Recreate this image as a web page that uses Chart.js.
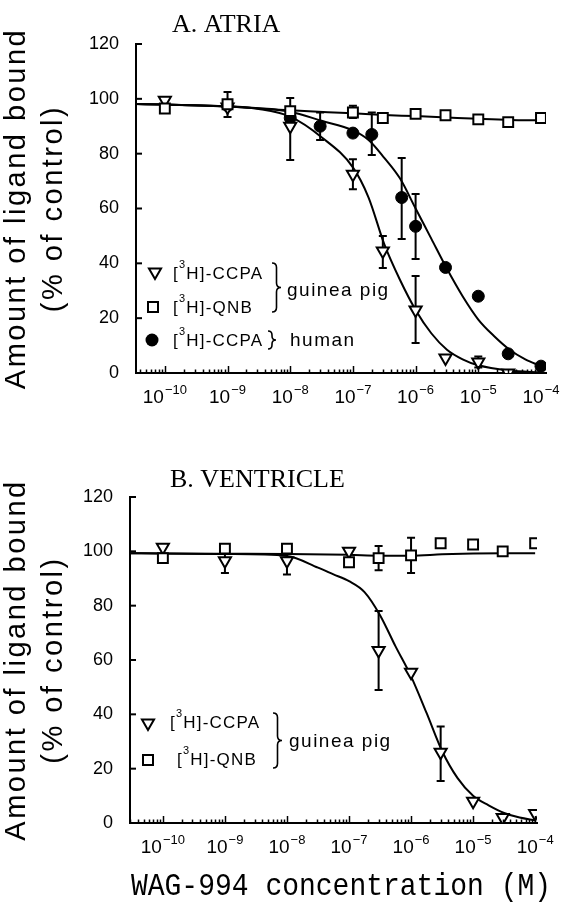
<!DOCTYPE html>
<html>
<head>
<meta charset="utf-8">
<title>WAG-994 displacement binding</title>
<script src="https://cdn.jsdelivr.net/npm/chart.js@4.4.1/dist/chart.umd.min.js"></script>
<style>
  body { margin: 0; background: #fff; }
  .panel { position: absolute; left: 0; width: 564px; }
  #panelA { top: 0; height: 430px; }
  #panelB { top: 440px; height: 462px; }
</style>
</head>
<body>
<div class="panel" id="panelA"><canvas id="chartA"></canvas></div>
<div class="panel" id="panelB"><canvas id="chartB"></canvas></div>
<script>
// ---- A. Atria: measured points (% of control) ----
const atriaCcpaGpConc = [1e-10, 1e-9, 1e-8, 1e-7, 3e-7, 1e-6, 3e-6, 1e-5, 3e-5];
const atriaCcpaGp     = [99.5, 97, 90, 72.5, 44.5, 23, 5.5, 4, 0];
const atriaCcpaGpLo   = [null, null, 77.7, 67, 38.3, 10.9, null, 2, null];
const atriaCcpaGpHi   = [null, null, 100.3, 78, 50, 35.4, null, 6, null];

const atriaQnbGpConc = [1e-10, 1e-9, 1e-8, 1e-7, 3e-7, 1e-6, 3e-6, 1e-5, 3e-5, 1e-4];
const atriaQnbGp     = [96.5, 98, 95.5, 95, 93, 94.5, 94, 92.5, 91.5, 93];
const atriaQnbGpLo   = [null, null, null, 93, null, null, null, null, null, null];
const atriaQnbGpHi   = [null, null, null, 97.5, null, null, null, null, null, null];

const atriaCcpaHuConc = [1e-9, 1e-8, 3e-8, 1e-7, 2e-7, 6e-7, 1e-6, 3e-6, 1e-5, 3e-5, 1e-4];
const atriaCcpaHu     = [97.5, 93, 90, 87.5, 87, 64, 53.5, 38.5, 28, 7, 2.5];
const atriaCcpaHuLo   = [93.4, null, 85, null, 79.5, 48.9, 41.6, null, null, null, null];
const atriaCcpaHuHi   = [102.5, null, 95, null, 95, 78.4, 65.3, null, null, null, null];

// fitted curves (log10 concentration, %)
const atriaFitCcpaGpExp = [-10.46, -10, -9, -8.5, -8, -7.5, -7, -6.75, -6.5, -6.25, -6, -5.75, -5.5, -5.25, -5, -4.5, -4];
const atriaFitCcpaGp    = [98.1, 97.9, 97.2, 96.3, 93.5, 86, 75, 64, 47, 34, 23, 14.5, 8.5, 5, 2.8, 0.9, 0.2];
const atriaFitCcpaHuExp = [-10.46, -10, -9, -8.5, -8, -7.5, -7, -6.75, -6.5, -6.25, -6, -5.75, -5.5, -5.25, -5, -4.75, -4.5, -4.25, -4];
const atriaFitCcpaHu    = [98.1, 97.9, 97.2, 96.5, 95.3, 92, 88.5, 85, 78.5, 71, 60, 49, 38, 28, 19.5, 13.5, 8.5, 5, 2.5];
const atriaFitQnbExp    = [-10.46, -10, -9, -8, -7, -6.5, -6, -5.5, -5, -4.5, -4];
const atriaFitQnb       = [98.1, 97.9, 97.3, 95.8, 94.7, 94.1, 93.7, 93.2, 92.7, 92.3, 92.2];

// ---- B. Ventricle ----
const ventCcpaGpConc = [1e-10, 1e-9, 1e-8, 1e-7, 3e-7, 1e-6, 3e-6, 1e-5, 3e-5, 1e-4];
const ventCcpaGp     = [101.5, 96.5, 96.5, 100, 63.5, 55.5, 26, 8, 2, 3.5];
const ventCcpaGpLo   = [null, 92, 91.5, null, 49, null, 15.5, null, null, null];
const ventCcpaGpHi   = [null, 101, 101.5, null, 78, null, 35.5, null, null, null];

const ventQnbGpConc = [1e-10, 1e-9, 1e-8, 1e-7, 3e-7, 1e-6, 3e-6, 1e-5, 3e-5, 1e-4];
const ventQnbGp     = [97.5, 101, 101, 96, 97.5, 98.5, 103, 102.5, 100, 103];
const ventQnbGpLo   = [null, null, null, null, 93, 92, null, null, null, null];
const ventQnbGpHi   = [null, null, null, null, 102, 105, null, null, null, null];

const ventFitCcpaExp = [-10.53, -10, -9, -8, -7.5, -7.25, -7, -6.75, -6.5, -6.25, -6, -5.75, -5.5, -5.25, -5, -4.75, -4.5, -4.25, -4];
const ventFitCcpa    = [99.3, 99.2, 99, 98.3, 94, 91.5, 89, 85, 76.5, 65, 54, 40.5, 26.5, 16.5, 10, 6.5, 3.7, 2, 1];
const ventFitQnbExp  = [-10.53, -10, -9, -8, -7, -6.5, -6, -5.5, -5, -4.5, -4];
const ventFitQnb     = [99.3, 99.2, 99.1, 99, 98.7, 98.4, 98.4, 98.9, 99.2, 99.3, 99.3];

// ticks and texts
const yTickValues = [0, 20, 40, 60, 80, 100, 120];
const xDecades = [-10, -9, -8, -7, -6, -5, -4];
const yTitleLines = ['Amount of ligand bound', '(% of control)'];
const xTitleText = 'WAG-994 concentration (M)';
const ccpaLabel = ['[', '3', 'H]-CCPA'];
const qnbLabel = ['[', '3', 'H]-QNB'];

const SANS = '"Liberation Sans", Arial, sans-serif';

function pts(xs, ys) { return xs.map((c, i) => ({ x: c, y: ys[i] })); }
function fitPts(exps, ys) { return exps.map((e, i) => ({ x: Math.pow(10, e), y: ys[i] })); }

const triStyle = { pointStyle: 'triangle', pointRotation: 180, pointRadius: 7, pointBackgroundColor: '#fff', pointBorderColor: '#000', pointBorderWidth: 2 };
const sqStyle = { pointStyle: 'rect', pointRadius: 7, pointBackgroundColor: '#fff', pointBorderColor: '#000', pointBorderWidth: 2 };
const dotStyle = { pointStyle: 'circle', pointRadius: 6, pointBackgroundColor: '#000', pointBorderColor: '#000', pointBorderWidth: 1 };

function marks(xs, ys, lo, hi, style) {
  return Object.assign({ data: pts(xs, ys), errLo: lo, errHi: hi, showLine: false, order: 1 }, style);
}
function curve(exps, ys) {
  return { data: fitPts(exps, ys), showLine: true, pointRadius: 0, borderColor: '#000', borderWidth: 2,
           cubicInterpolationMode: 'monotone', fill: false, order: 2 };
}

function symbol(ctx, kind, x, y) {
  ctx.save();
  ctx.lineWidth = 2; ctx.strokeStyle = '#000';
  ctx.beginPath();
  if (kind === 'tri') {
    const r = 7;
    ctx.moveTo(x, y + r); ctx.lineTo(x - r * 0.866, y - r / 2); ctx.lineTo(x + r * 0.866, y - r / 2); ctx.closePath();
    ctx.fillStyle = '#fff'; ctx.fill(); ctx.stroke();
  } else if (kind === 'sq') {
    ctx.rect(x - 5, y - 5, 10, 10);
    ctx.fillStyle = '#fff'; ctx.fill(); ctx.stroke();
  } else {
    ctx.arc(x, y, 6.5, 0, Math.PI * 2);
    ctx.fillStyle = '#000'; ctx.fill();
  }
  ctx.restore();
}

// text with a superscript in every second part
function richText(ctx, x, y, parts, size, supSize, rise) {
  let cx = x;
  parts.forEach((p, i) => {
    const sup = i % 2 === 1;
    ctx.font = (sup ? supSize : size) + 'px ' + SANS;
    ctx.fillText(p, cx, sup ? y - rise : y);
    cx += ctx.measureText(p).width;
  });
  return cx;
}

function brace(ctx, x, y0, y1, w) {
  const m = (y0 + y1) / 2, h = w / 2, c = Math.min(h, (y1 - y0) / 4);
  ctx.save();
  ctx.lineWidth = 1.6; ctx.strokeStyle = '#000';
  ctx.beginPath();
  ctx.moveTo(x, y0);
  ctx.quadraticCurveTo(x + h, y0, x + h, y0 + c);
  ctx.lineTo(x + h, m - c);
  ctx.quadraticCurveTo(x + h, m, x + w, m);
  ctx.quadraticCurveTo(x + h, m, x + h, m + c);
  ctx.lineTo(x + h, y1 - c);
  ctx.quadraticCurveTo(x + h, y1, x, y1);
  ctx.stroke();
  ctx.restore();
}

function makePanel(canvasId, p) {
  const decor = {
    id: 'decor_' + canvasId,
    beforeDatasetsDraw(chart) {
      const { ctx, scales: { x, y } } = chart;
      ctx.save();
      ctx.strokeStyle = '#000'; ctx.lineWidth = 2;
      chart.data.datasets.forEach(ds => {
        if (!ds.errLo) return;
        ds.data.forEach((pt, i) => {
          const lo = ds.errLo[i], hi = ds.errHi[i];
          if (lo == null) return;
          const px = x.getPixelForValue(pt.x), y0 = y.getPixelForValue(lo), y1 = y.getPixelForValue(hi);
          ctx.beginPath();
          ctx.moveTo(px, y0); ctx.lineTo(px, y1);
          ctx.moveTo(px - 4, y0); ctx.lineTo(px + 4, y0);
          ctx.moveTo(px - 4, y1); ctx.lineTo(px + 4, y1);
          ctx.stroke();
        });
      });
      ctx.restore();
    },
    afterDraw(chart) {
      const { ctx, chartArea: a, scales: { x, y } } = chart;
      ctx.save();
      ctx.strokeStyle = '#000'; ctx.fillStyle = '#000';
      // inward tick marks on x (log minor ticks) and y
      ctx.lineWidth = 1.5;
      for (let e = Math.floor(p.xMinExp); e <= Math.ceil(p.xMaxExp); e++) {
        for (let k = 1; k <= 9; k++) {
          const v = k * Math.pow(10, e);
          if (v < Math.pow(10, p.xMinExp) || v > Math.pow(10, p.xMaxExp)) continue;
          const px = Math.round(x.getPixelForValue(v)) + 0.5;
          ctx.beginPath();
          ctx.moveTo(px, a.bottom); ctx.lineTo(px, a.bottom - (k === 1 ? 7 : 3.5));
          ctx.stroke();
        }
      }
      ctx.lineWidth = 2;
      yTickValues.forEach(v => {
        const py = y.getPixelForValue(v);
        ctx.beginPath(); ctx.moveTo(a.left, py); ctx.lineTo(a.left + 6, py); ctx.stroke();
      });
      // x tick labels 10^n
      ctx.textBaseline = 'alphabetic'; ctx.textAlign = 'left';
      xDecades.forEach(e => {
        const px = x.getPixelForValue(Math.pow(10, e));
        ctx.font = '19px ' + SANS;
        const w1 = ctx.measureText('10').width;
        ctx.font = '13px ' + SANS;
        const sup = '\u2212' + Math.abs(e);
        const w2 = ctx.measureText(sup).width;
        const x0 = px - (w1 + 1 + w2) / 2;
        ctx.font = '19px ' + SANS;
        ctx.fillText('10', x0, a.bottom + 30);
        ctx.font = '13px ' + SANS;
        ctx.fillText(sup, x0 + w1 + 1, a.bottom + 21);
      });
      // panel title
      ctx.font = '26px "Liberation Serif", "Times New Roman", serif';
      ctx.fillText(p.title, p.titleX, p.titleY);
      // y axis title, two rotated lines
      ctx.font = '29px ' + SANS;
      ctx.letterSpacing = '2.5px';
      ctx.textAlign = 'center';
      yTitleLines.forEach((line, i) => {
        ctx.save();
        ctx.translate(p.yTitleX[i], (a.top + a.bottom) / 2);
        ctx.rotate(-Math.PI / 2);
        ctx.fillText(line, 0, 0);
        ctx.restore();
      });
      // legend
      ctx.textAlign = 'left';
      ctx.letterSpacing = '1.2px';
      p.legend.forEach(item => {
        symbol(ctx, item.sym, item.sx, item.sy);
        richText(ctx, item.tx, item.ty, item.parts, 17, 11, 11);
      });
      p.braces.forEach(b => brace(ctx, b[0], b[1], b[2], b[3]));
      ctx.font = '19px ' + SANS;
      ctx.letterSpacing = '1.5px';
      p.notes.forEach(n => ctx.fillText(n[0], n[1], n[2]));
      ctx.letterSpacing = '0px';
      // x axis title (only under the lower panel)
      if (p.xTitle) {
        ctx.save();
        ctx.font = '28px "Liberation Mono", "Courier New", monospace';
        ctx.textAlign = 'center';
        ctx.translate(p.xTitle.x, p.xTitle.y);
        ctx.scale(1, 1.15);
        ctx.fillText(xTitleText, 0, 0);
        ctx.restore();
      }
      ctx.restore();
    }
  };

  return new Chart(document.getElementById(canvasId), {
    type: 'scatter',
    data: { datasets: p.datasets },
    options: {
      responsive: true,
      maintainAspectRatio: false,
      devicePixelRatio: 1,
      animation: false,
      layout: { padding: { top: p.top, right: p.right, left: 0, bottom: 0 } },
      plugins: { legend: { display: false }, tooltip: { enabled: false } },
      scales: {
        x: {
          type: 'logarithmic',
          min: Math.pow(10, p.xMinExp),
          max: Math.pow(10, p.xMaxExp),
          grid: { display: false },
          border: { display: true, color: '#000', width: 2 },
          ticks: { display: false },
          afterFit: s => { s.height = p.xAxisHeight; }
        },
        y: {
          min: 0, max: 120,
          grid: { display: false },
          border: { display: true, color: '#000', width: 2 },
          ticks: { stepSize: 20, color: '#000', padding: 9, font: { family: SANS, size: 18 } },
          afterFit: s => { s.width = p.left; }
        }
      }
    },
    plugins: [decor]
  });
}

makePanel('chartA', {
  xMinExp: -10.46, xMaxExp: -3.92, top: 44, right: 18, left: 136, xAxisHeight: 57,
  title: 'A. ATRIA', titleX: 172, titleY: 32,
  yTitleX: [25, 62],
  legend: [
    { sym: 'tri', sx: 155, sy: 272, tx: 173, ty: 279, parts: ccpaLabel },
    { sym: 'sq', sx: 153, sy: 307, tx: 173, ty: 313, parts: qnbLabel },
    { sym: 'dot', sx: 152, sy: 340, tx: 173, ty: 346, parts: ccpaLabel }
  ],
  braces: [[272, 263, 312, 9], [268, 331, 349, 8]],
  notes: [['guinea pig', 287, 296], ['human', 290, 346]],
  datasets: [
    curve(atriaFitQnbExp, atriaFitQnb),
    curve(atriaFitCcpaHuExp, atriaFitCcpaHu),
    curve(atriaFitCcpaGpExp, atriaFitCcpaGp),
    marks(atriaQnbGpConc, atriaQnbGp, atriaQnbGpLo, atriaQnbGpHi, sqStyle),
    marks(atriaCcpaGpConc, atriaCcpaGp, atriaCcpaGpLo, atriaCcpaGpHi, triStyle),
    marks(atriaCcpaHuConc, atriaCcpaHu, atriaCcpaHuLo, atriaCcpaHuHi, dotStyle)
  ]
});

makePanel('chartB', {
  xMinExp: -10.53, xMaxExp: -3.97, top: 57, right: 27, left: 130, xAxisHeight: 79,
  title: 'B. VENTRICLE', titleX: 170, titleY: 47,
  yTitleX: [25, 62],
  legend: [
    { sym: 'tri', sx: 148, sy: 283, tx: 170, ty: 288, parts: ccpaLabel },
    { sym: 'sq', sx: 148, sy: 320, tx: 177, ty: 325, parts: qnbLabel }
  ],
  braces: [[273, 273, 328, 9]],
  notes: [['guinea pig', 289, 307]],
  xTitle: { x: 341, y: 455 },
  datasets: [
    curve(ventFitQnbExp, ventFitQnb),
    curve(ventFitCcpaExp, ventFitCcpa),
    marks(ventQnbGpConc, ventQnbGp, ventQnbGpLo, ventQnbGpHi, sqStyle),
    marks(ventCcpaGpConc, ventCcpaGp, ventCcpaGpLo, ventCcpaGpHi, triStyle)
  ]
});
</script>
</body>
</html>
